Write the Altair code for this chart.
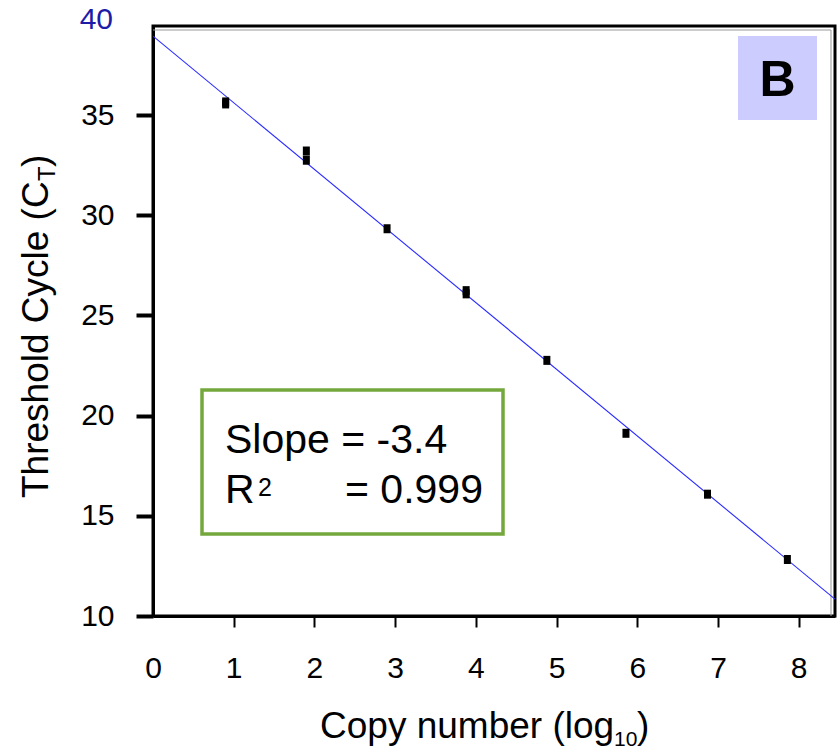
import altair as alt
import pandas as pd

# Data
copy_log10 = [0.90, 0.90, 1.90, 1.90, 2.90, 3.88, 3.88, 4.88, 5.86, 6.87, 7.86]
threshold_ct = [35.66, 35.56, 33.21, 32.75, 29.33, 26.24, 26.08, 22.76, 19.12, 16.08, 12.82]
x_ticks = [0, 1, 2, 3, 4, 5, 6, 7, 8]
y_ticks = [10, 15, 20, 25, 30, 35]
x_domain = [0, 8.45]
y_domain = [10, 39.45]

FONT = "Liberation Sans"
W, H = 682, 590

df = pd.DataFrame({"x": copy_log10, "y": threshold_ct})

xscale = alt.Scale(domain=x_domain, nice=False, zero=False)
yscale = alt.Scale(domain=y_domain, nice=False, zero=False)

xaxis = alt.Axis(values=x_ticks, format="d", title=None, grid=False,
                 labelFont=FONT, labelFontSize=30, labelColor="black",
                 labelPadding=26, tickSize=11, tickWidth=2, tickColor="black",
                 tickOpacity={"condition": {"test": "datum.value === 0", "value": 0}, "value": 1},
                 domainColor="black", domainWidth=3, labelFlush=False)
yaxis = alt.Axis(values=y_ticks, title=None, grid=False,
                 labelFont=FONT, labelFontSize=30, labelColor="black",
                 labelPadding=22, tickSize=17, tickWidth=4, tickColor="black",
                 domainColor="black", domainWidth=3)

square = "M-0.778,-1H0.778V1H-0.778Z"

points = alt.Chart(df).mark_point(shape=square, filled=True, size=81, color="black", opacity=1).encode(
    x=alt.X("x:Q", scale=xscale, axis=xaxis),
    y=alt.Y("y:Q", scale=yscale, axis=yaxis),
)

fit = alt.Chart(df).transform_regression("x", "y", extent=x_domain).mark_line(
    color="#2a2aff", strokeWidth=1.1, clip=True
).encode(
    x=alt.X("x:Q", scale=xscale),
    y=alt.Y("y:Q", scale=yscale),
)


def txt(s, x, y, size, angle=0, align="left", baseline="alphabetic", weight="normal", color="black"):
    kw = dict(font=FONT, fontSize=size, align=align, baseline=baseline, fontWeight=weight, color=color)
    if angle:
        kw["angle"] = angle
    return alt.Chart(pd.DataFrame({"t": [s]})).mark_text(**kw).encode(
        x=alt.value(x), y=alt.value(y), text="t:N")


def box(x1, x2, y1, y2, **kw):
    return alt.Chart(pd.DataFrame({"a": [0]})).mark_rect(**kw).encode(
        x=alt.value(x1), x2=alt.value(x2), y=alt.value(y1), y2=alt.value(y2))


def rule(x1, x2, y1, y2, **kw):
    return alt.Chart(pd.DataFrame({"a": [0]})).mark_rule(**kw).encode(
        x=alt.value(x1), x2=alt.value(x2), y=alt.value(y1), y2=alt.value(y2))


layers = [
    rule(0, W - 4, 4, 4, color="#999999", strokeWidth=1),
    rule(W - 4, W - 4, 4, H, color="#999999", strokeWidth=1),
    box(49, 350, 364, 508, fill="white", stroke="#74a83c", strokeWidth=3.5),
    box(585, 664, 10, 94, fill="#ccccff"),
    fit,
    points,
    txt("B", 624.5, 70, 50, align="center", weight="bold"),
    txt("Slope = -3.4", 72, 427, 41),
    txt("R", 72, 477, 41),
    txt("2", 105, 470, 25),
    txt("= 0.999", 192, 477, 41),
    txt("40", -40, -6, 30, align="right", baseline="middle", color="#1c1ca8"),
    # x title with subscript
    txt("Copy number (log", 167, 712, 37),
    txt("10", 461, 720, 21),
    txt(")", 484, 712, 37),
    # y title with subscript (rotated)
    txt("Threshold Cycle (C", -105, 472, 37, angle=270),
    txt("T", -98, 155, 24, angle=270),
    txt(")", -105, 141, 37, angle=270),
]

chart = alt.layer(*layers).properties(
    width=W, height=H,
    autosize=alt.AutoSizeParams(type="none"),
    padding={"left": 153, "top": 26, "right": 5, "bottom": 136},
    background="white",
).configure_view(stroke="black", strokeWidth=3)

chart.save("out.html", embed_options={"renderer": "svg", "actions": False})
